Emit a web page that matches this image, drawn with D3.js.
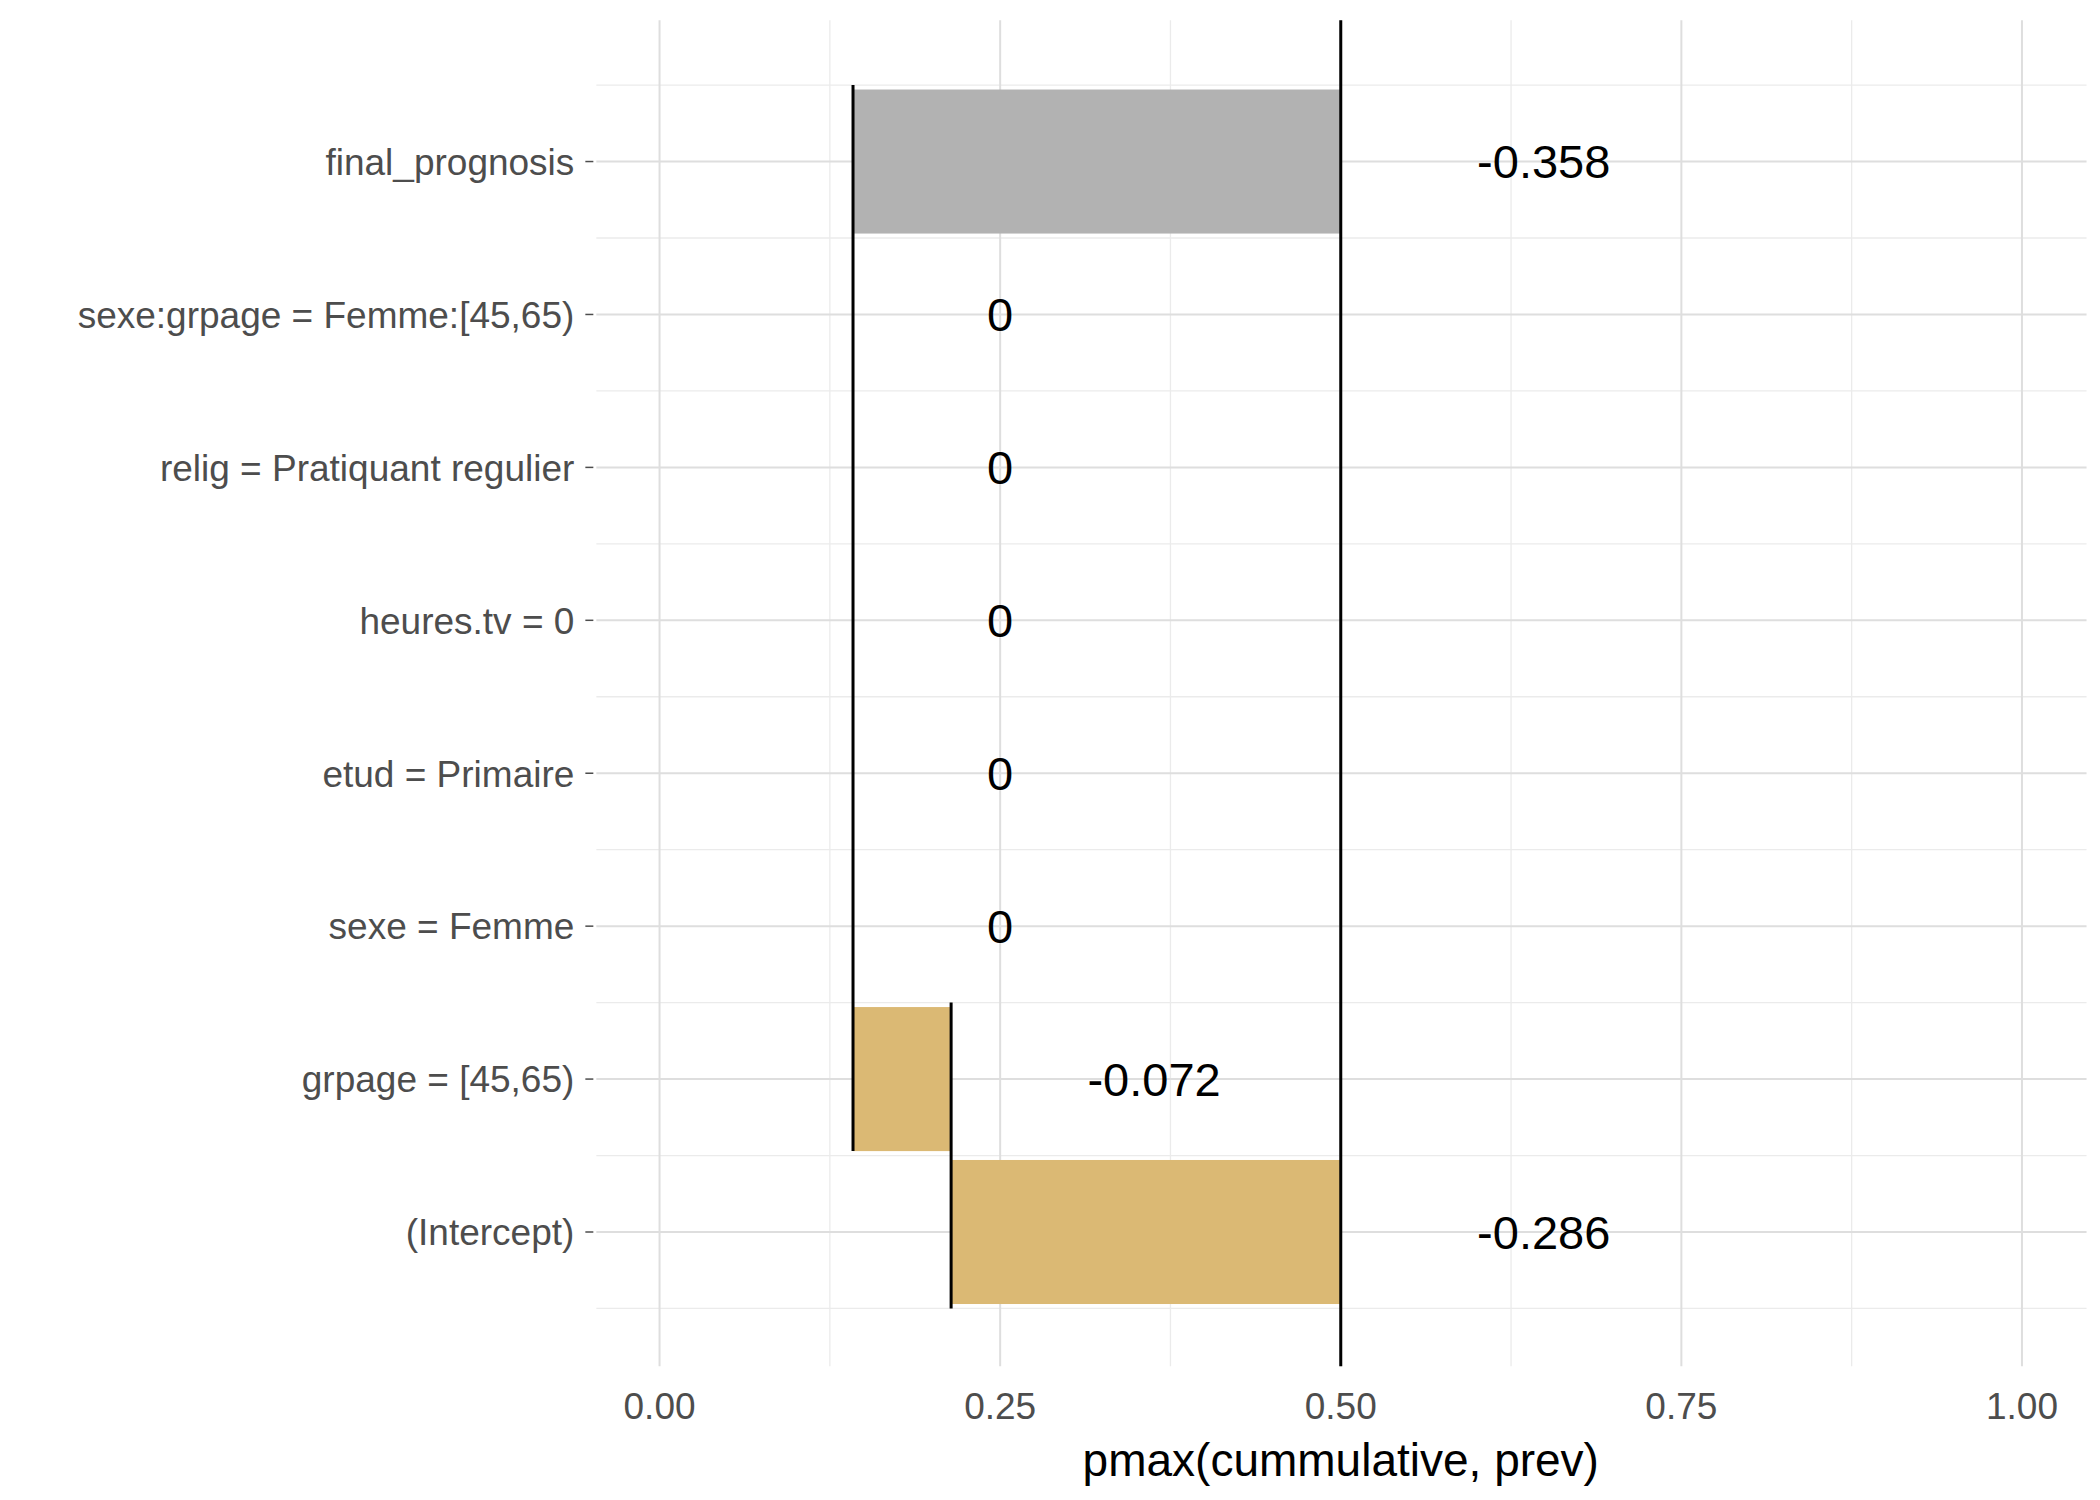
<!DOCTYPE html>
<html><head><meta charset="utf-8">
<script src="https://cdn.jsdelivr.net/npm/d3@7"></script>
<style>body{margin:0;background:#fff}</style>
</head><body>
<svg id="c" width="2100" height="1500"></svg>
<script>
const categories = ["final_prognosis","sexe:grpage = Femme:[45,65)","relig = Pratiquant regulier","heures.tv = 0","etud = Primaire","sexe = Femme","grpage = [45,65)","(Intercept)"];
const barStart = [0.142,0.142,0.142,0.142,0.142,0.142,0.214,0.5];
const barEnd   = [0.5,0.142,0.142,0.142,0.142,0.142,0.142,0.214];
const labels   = ["-0.358","0","0","0","0","0","-0.072","-0.286"];
const labelX   = [0.649,0.25,0.25,0.25,0.25,0.25,0.363,0.649];
const barColor = ["#b2b2b2","#dbb974","#dbb974","#dbb974","#dbb974","#dbb974","#dbb974","#dbb974"];
const xTicks = [0,0.25,0.5,0.75,1];
const xMinor = [0.125,0.375,0.625,0.875];

const svg = d3.select("#c");
const F = "'Liberation Sans', Arial, sans-serif";
const s = 2100/1560;
const L = 443*s, R = 1550*s, T = 15*s, B = 1015*s;
const x = d3.scaleLinear().domain([-0.0486,1.0496]).range([L-3,R+3]);
const step = 113.6*s, y0 = 120*s;
const y = c => y0 + categories.indexOf(c)*step;

const g = svg.append("g");
xMinor.forEach(v=>g.append("line").attr("x1",x(v)).attr("x2",x(v)).attr("y1",T).attr("y2",B).attr("stroke","#ebebeb").attr("stroke-width",1.3));
categories.concat(["_end"]).forEach((c,i)=>{const yy=y0+(i-0.5)*step; g.append("line").attr("x1",L).attr("x2",R).attr("y1",yy).attr("y2",yy).attr("stroke","#ebebeb").attr("stroke-width",1.3);});
xTicks.forEach(v=>g.append("line").attr("x1",x(v)).attr("x2",x(v)).attr("y1",T).attr("y2",B).attr("stroke","#dedede").attr("stroke-width",2));
categories.forEach(c=>g.append("line").attr("x1",L).attr("x2",R).attr("y1",y(c)).attr("y2",y(c)).attr("stroke","#dedede").attr("stroke-width",2));

const bh = 107*s;
categories.forEach((c,i)=>{
  const a=Math.min(barStart[i],barEnd[i]), b=Math.max(barStart[i],barEnd[i]);
  if(b-a>0) g.append("rect").attr("x",x(a)).attr("width",x(b)-x(a)).attr("y",y(c)-bh/2).attr("height",bh).attr("fill",barColor[i]);
});
const line=(v,c1,c2)=>g.append("line").attr("x1",x(v)).attr("x2",x(v)).attr("y1",c1).attr("y2",c2).attr("stroke","#000").attr("stroke-width",3);
line(0.5,T,B);
line(barStart[0], y(categories[0])-step/2, y(categories[6])+bh/2);
line(barEnd[7], y(categories[6])-step/2, y(categories[7])+step/2);

categories.forEach((c,i)=>g.append("text").attr("x",x(labelX[i])).attr("y",y(c)).attr("dy","0.36em").attr("text-anchor","middle").attr("font-family",F).attr("font-size",47).text(labels[i]));

categories.forEach(c=>{
  g.append("line").attr("x1",L-11).attr("x2",L-3).attr("y1",y(c)).attr("y2",y(c)).attr("stroke","#4d4d4d").attr("stroke-width",1.5);
  g.append("text").attr("x",L-22).attr("y",y(c)).attr("dy","0.36em").attr("text-anchor","end").attr("font-family",F).attr("font-size",37).attr("fill","#4d4d4d").text(c);
});
xTicks.forEach(v=>g.append("text").attr("x",x(v)).attr("y",1044*s).attr("dy","0.36em").attr("text-anchor","middle").attr("font-family",F).attr("font-size",37).attr("fill","#4d4d4d").text(v.toFixed(2)));
g.append("text").attr("x",x(0.5)).attr("y",1084*s).attr("dy","0.36em").attr("text-anchor","middle").attr("font-family",F).attr("font-size",46).text("pmax(cummulative, prev)");
</script>
</body></html>
